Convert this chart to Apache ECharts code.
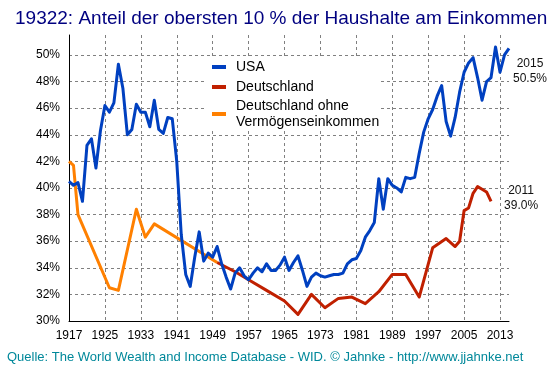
<!DOCTYPE html>
<html><head><meta charset="utf-8">
<script src="https://cdn.jsdelivr.net/npm/echarts@6/dist/echarts.min.js"></script>
<style>html,body{margin:0;padding:0;background:#fff}#c{width:553px;height:376px}</style>
</head><body><div id="c"></div>
<script>
const titleText = '19322: Anteil der obersten 10 % der Haushalte am Einkommen';
const sourceText = 'Quelle: The World Wealth and Income Database - WID. \u00A9 Jahnke - http://www.jjahnke.net';
const seriesNames = ['USA', 'Deutschland', 'Deutschland ohne Verm\u00F6genseinkommen'];

const axisStartYear = 1917;
const axisEndYear = 2015;
const xTickStep = 8;
const xTickYears = [1917, 1925, 1933, 1941, 1949, 1957, 1965, 1973, 1981, 1989, 1997, 2005, 2013];
const yTicks = [30, 32, 34, 36, 38, 40, 42, 44, 46, 48, 50];

// USA, annual from 1917
const usaStartYear = 1917;
const usaValues = [
  40.5, 40.2, 40.4, 39.0, 43.2, 43.7, 41.5, 44.3, 46.2, 45.7,   // 1917-1926
  46.4, 49.3, 47.5, 44.0, 44.4, 46.3, 45.7, 45.7, 44.6, 46.6,   // 1927-1936
  44.4, 44.1, 45.3, 45.2, 42.0, 36.5, 33.5, 32.6, 34.8, 36.7,   // 1937-1946
  34.5, 35.1, 34.8, 35.6, 34.3, 33.3, 32.4, 33.6, 34.0, 33.4,   // 1947-1956
  33.1, 33.6, 34.0, 33.7, 34.3, 33.8, 33.8, 34.2, 34.8, 33.8,   // 1957-1966
  34.4, 34.9, 33.8, 32.6, 33.3, 33.6, 33.4, 33.3, 33.4, 33.5,   // 1967-1976
  33.5, 33.6, 34.3, 34.6, 34.7, 35.3, 36.3, 36.8, 37.4, 40.7,   // 1977-1986
  38.4, 40.7, 40.2, 40.0, 39.7, 40.8, 40.7, 40.8, 42.6, 44.2,   // 1987-1996
  45.2, 45.9, 46.9, 47.7, 45.0, 43.9, 45.3, 47.2, 48.7, 49.4,   // 1997-2006
  49.8, 48.3, 46.6, 48.0, 48.3, 50.6, 48.7, 50.0, 50.5          // 2007-2015
];

// Deutschland
const deYears  = [1950, 1954, 1957, 1961, 1965, 1968, 1971, 1974, 1977, 1980, 1983, 1986, 1989, 1992, 1995, 1998, 2001, 2003, 2004, 2005, 2006, 2007, 2008, 2009, 2010, 2011];
const deValues = [34.4, 33.7, 33.1, 32.3, 31.5, 30.5, 32.0, 31.0, 31.7, 31.8, 31.3, 32.2, 33.5, 33.5, 31.8, 35.5, 36.2, 35.6, 36.0, 38.3, 38.5, 39.6, 40.1, 39.9, 39.7, 39.0];

// Deutschland ohne Vermögenseinkommen
const deoYears  = [1917, 1918, 1919, 1926, 1928, 1932, 1934, 1936, 1950];
const deoValues = [42.0, 41.7, 38.0, 32.5, 32.3, 38.4, 36.3, 37.3, 34.4];

const off = y => y - axisStartYear;
const usaData = usaValues.map((v, i) => [off(usaStartYear + i), v]);
const deData = deValues.map((v, i) => [off(deYears[i]), v]);
const deoData = deoValues.map((v, i) => [off(deoYears[i]), v]);

const usaLastYear = usaStartYear + usaValues.length - 1;
const usaLast = usaValues[usaValues.length - 1];
const deLastYear = deYears[deYears.length - 1];
const deLast = deValues[deValues.length - 1];

const FONT = '"Liberation Sans", Arial, sans-serif';
const chart = echarts.init(document.getElementById('c'), null, {renderer: 'canvas'});

const endLabel = (txt, offset) => ({
  symbol: 'circle', symbolSize: 1, silent: true,
  itemStyle: {color: 'rgba(0,0,0,0)'},
  label: {show: true, position: 'inside', formatter: txt, offset: offset,
          color: '#111', fontSize: 12, lineHeight: 15, fontFamily: FONT}
});

chart.setOption({
  animation: false,
  backgroundColor: '#fff',
  textStyle: {fontFamily: FONT},
  title: [
    {text: titleText, left: 15, top: 9, padding: 0,
     textStyle: {fontSize: 19, fontWeight: 'normal', color: '#000080', fontFamily: FONT}},
    {text: sourceText, left: 7, top: 351, padding: 0,
     textStyle: {fontSize: 13, fontWeight: 'normal', color: '#00889A', fontFamily: FONT}}
  ],
  grid: {left: 69, right: 44, top: 35, bottom: 55, containLabel: false, outerBoundsMode: 'none'},
  legend: {
    orient: 'vertical', left: 207, top: 57, padding: [2, 1, 1, 5],
    backgroundColor: '#fff', itemWidth: 14, itemHeight: 4, itemGap: 4,
    icon: 'rect', selectedMode: false,
    textStyle: {fontSize: 14, color: '#000', fontFamily: FONT, lineHeight: 16, padding: [0, 0, 0, 5]},
    formatter: n => n.replace(' Verm', '\nVerm'),
    data: [
      {name: seriesNames[0]},
      {name: seriesNames[1]},
      {name: seriesNames[2], textStyle: {padding: [0, 0, -16, 5]}}
    ]
  },
  xAxis: {
    type: 'value', min: 0, max: off(axisEndYear), interval: xTickStep,
    axisLine: {show: true, onZero: false, lineStyle: {color: '#000', width: 1}},
    axisTick: {show: false},
    axisLabel: {margin: 9, fontSize: 12, color: '#000', showMaxLabel: false, showMinLabel: true,
      formatter: v => { const y = v + axisStartYear; return xTickYears.indexOf(y) >= 0 ? String(y) : ''; }},
    splitLine: {show: true, showMinLine: false, showMaxLine: false,
      lineStyle: {color: '#808080', width: 1, type: [3, 3]}}
  },
  yAxis: {
    type: 'value', min: 30, max: 51.5, interval: 2,
    axisLine: {show: true, lineStyle: {color: '#000', width: 1}},
    axisTick: {show: false},
    axisLabel: {margin: 9, fontSize: 12, color: '#000', showMaxLabel: false,
      formatter: v => yTicks.indexOf(v) >= 0 ? v + '%' : ''},
    splitLine: {show: true, showMinLine: false, showMaxLine: false,
      lineStyle: {color: '#808080', width: 1, type: [3, 3]}}
  },
  series: [
    {name: seriesNames[2], type: 'line', data: deoData, showSymbol: false, symbol: 'none',
     lineStyle: {color: '#FF8000', width: 3, join: 'round'}, itemStyle: {color: '#FF8000'}},
    {name: seriesNames[1], type: 'line', data: deData, showSymbol: false, symbol: 'none',
     lineStyle: {color: '#C02000', width: 3, join: 'round'}, itemStyle: {color: '#C02000'},
     markPoint: Object.assign(endLabel(deLastYear + '\n' + deLast.toFixed(1) + '%', [30, -3]),
       {data: [{coord: [off(deLastYear), deLast]}]})},
    {name: seriesNames[0], type: 'line', data: usaData, showSymbol: false, symbol: 'none',
     lineStyle: {color: '#0040C0', width: 3, join: 'round'}, itemStyle: {color: '#0040C0'},
     markPoint: Object.assign(endLabel(usaLastYear + '\n' + usaLast.toFixed(1) + '%', [21, 23]),
       {data: [{coord: [off(usaLastYear), usaLast]}]})}
  ]
});
</script>
</body></html>
